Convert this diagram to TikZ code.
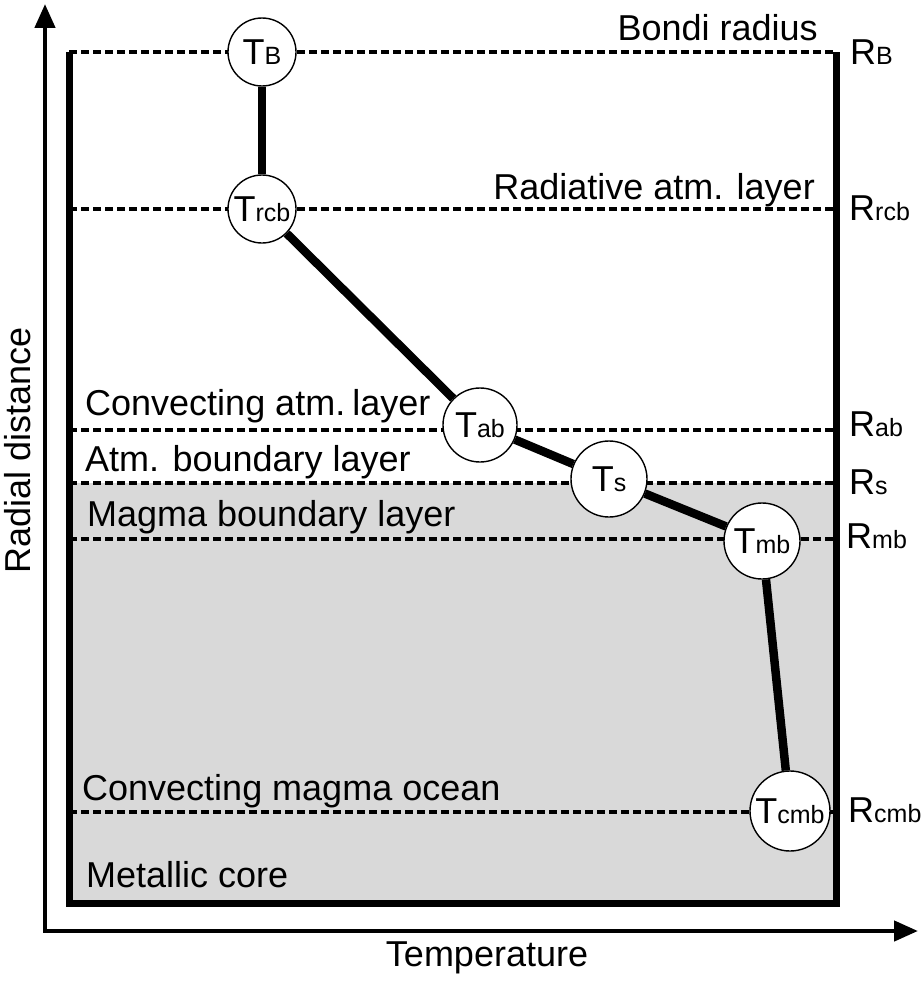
\documentclass[tikz,border=0pt]{standalone}
\usepackage{fontspec}
\setmainfont{Liberation Sans}
\usetikzlibrary{arrows.meta}
\newcommand\sublab[2]{#1{\fontsize{25}{25}\selectfont #2}}
\begin{document}
\begin{tikzpicture}[x=1pt,y=-1pt,
  every node/.style={font=\fontsize{36}{40}\selectfont, inner sep=0pt},
  tnode/.style={circle, draw, line width=1.4pt, fill=white, minimum size=#1},
  tnode/.default=68pt,
  dashln/.style={line width=3.5pt, dash pattern=on 8pt off 4pt},
  link/.style={line width=8.5pt},
  boxline/.style={line width=7pt, line join=miter},
  axisline/.style={line width=4.5pt, line join=miter}
]
\useasboundingbox (0,0) rectangle (923,982);
% shaded magma region
\fill[black!15] (69,483) rectangle (836,903);
% dashed level lines
\foreach \yy/\nm in {52/B,209/rcb,430/ab,483/s,539/mb,812/cmb}{
  \coordinate (L\nm) at (69,\yy);
  \coordinate (R\nm) at (836,\yy);
  \draw[dashln] (L\nm) -- (R\nm);
}
% box
\coordinate (b1) at (69,52);
\coordinate (b2) at (69,903);
\coordinate (b3) at (836,903);
\coordinate (b4) at (836,52);
\draw[boxline] (b1) -- (b2) -- (b3) -- (b4);
% axes
\coordinate (O) at (45,931);
\coordinate (ytip) at (45,4);
\coordinate (xtip) at (918,931);
\draw[axisline, {Triangle[length=24pt,width=20pt]}-{Triangle[length=24pt,width=20pt]}] (ytip) -- (O) -- (xtip);
% temperature nodes
\node[tnode=68pt] (TB) at (262,52) {\sublab{T}{B}};
\node[tnode=68pt] (Trcb) at (262,209) {\sublab{T}{rcb}};
\node[tnode=74pt] (Tab) at (480,425) {\sublab{T}{ab}};
\node[tnode=76pt] (Ts) at (609,479) {\sublab{T}{s}};
\node[tnode=76pt] (Tmb) at (762,541) {\sublab{T}{mb}};
\node[tnode=80pt] (Tcmb) at (790,811) {\sublab{T}{cmb}};
\draw[link] (TB) -- (Trcb);
\draw[link] (Trcb) -- (Tab);
\draw[link] (Tab) -- (Ts);
\draw[link] (Ts) -- (Tmb);
\draw[link] (Tmb) -- (Tcmb);
% layer labels
\node[anchor=base east] (lbondi) at (818,41) {Bondi radius};
\node[anchor=base east] (lrad) at (815,199) {Radiative atm. layer};
\node[anchor=base west] (lconv) at (85,415) {Convecting atm.\kern-3pt\ layer};
\node[anchor=base west] (latm) at (85,471) {Atm. boundary layer};
\node[anchor=base west] (lmag) at (87,526) {Magma boundary layer};
\node[anchor=base west] (locean) at (82,800) {Convecting magma ocean};
\node[anchor=base west] (lcore) at (86,887) {Metallic core};
% radius labels
\node[anchor=base west] (rB) at (850,64) {\sublab{R}{B}};
\node[anchor=base west] (rrcb) at (849,220) {\sublab{R}{rcb}};
\node[anchor=base west] (rab) at (849,436) {\sublab{R}{ab}};
\node[anchor=base west] (rs) at (849,494) {\sublab{R}{s}};
\node[anchor=base west] (rmb) at (846,548) {\sublab{R}{mb}};
\node[anchor=base west] (rcmb) at (848,822) {\sublab{R}{cmb}};
% axis labels
\node[rotate=90] (ylab) at (18,450) {Radial distance};
\node (xlab) at (487,958) {Temperature};
\end{tikzpicture}
\end{document}
